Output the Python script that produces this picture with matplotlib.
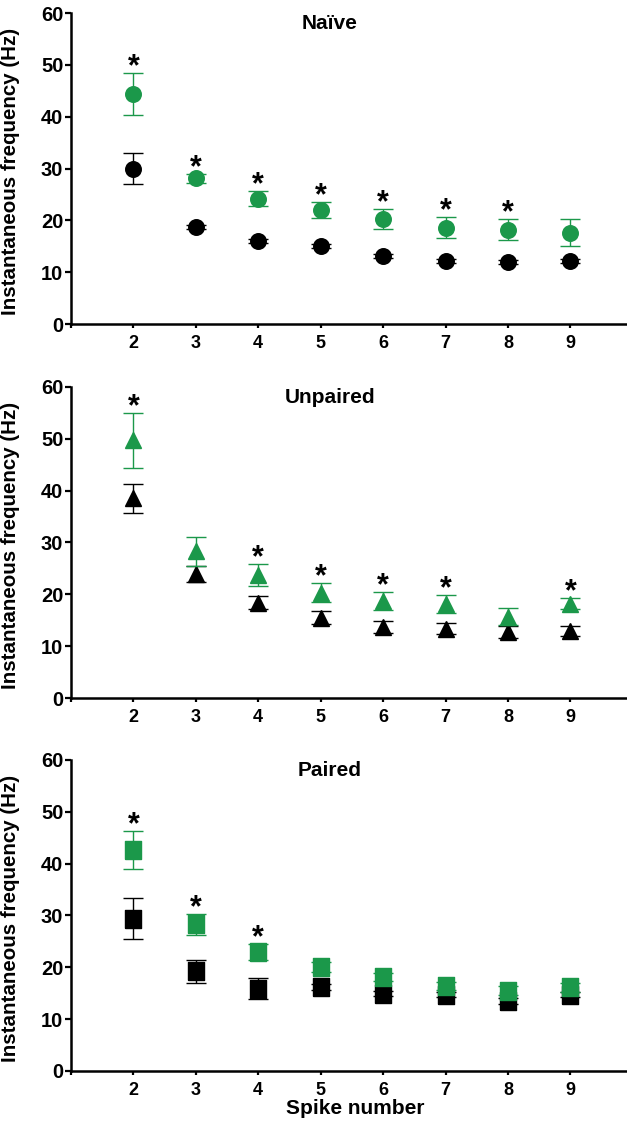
import numpy as np
import matplotlib
matplotlib.use("Agg")
import matplotlib.pyplot as plt

plt.rcParams["font.family"] = ["Liberation Sans", "DejaVu Sans"]
plt.rcParams["font.weight"] = "bold"

GREEN = "#1b984a"

spikes = [2, 3, 4, 5, 6, 7, 8, 9]
tick_labels = ["", "2", "3", "4", "5", "6", "7", "8", "9"]

# Naive (circles)
naive_ctl = [30.0, 18.8, 16.1, 15.0, 13.2, 12.2, 12.0, 12.2]
naive_ctl_err = [3.0, 0.4, 0.4, 0.4, 0.4, 0.4, 0.4, 0.4]
naive_trt = [44.4, 28.1, 24.2, 22.0, 20.2, 18.6, 18.2, 17.6]
naive_trt_err = [4.0, 0.8, 1.5, 1.6, 1.9, 2.0, 2.0, 2.6]
naive_sig = [2, 3, 4, 5, 6, 7, 8]

# Unpaired (triangles)
unp_ctl = [38.5, 23.9, 18.4, 15.5, 13.7, 13.4, 12.7, 12.9]
unp_ctl_err = [2.8, 1.6, 1.3, 1.3, 1.1, 1.1, 1.1, 1.0]
unp_trt = [49.7, 28.3, 23.7, 20.3, 18.7, 18.1, 15.7, 18.2]
unp_trt_err = [5.3, 2.8, 2.1, 1.8, 1.8, 1.7, 1.6, 1.1]
unp_sig = [2, 4, 5, 6, 7, 9]

# Paired (squares)
pair_ctl = [29.4, 19.2, 15.9, 16.2, 14.9, 14.7, 13.5, 14.7]
pair_ctl_err = [4.0, 2.2, 2.1, 0.6, 0.5, 0.5, 0.5, 0.5]
pair_trt = [42.6, 28.3, 23.0, 20.1, 18.1, 16.4, 15.5, 16.1]
pair_trt_err = [3.7, 2.0, 1.5, 1.0, 0.8, 0.8, 0.8, 0.8]
pair_sig = [2, 3, 4]

rect = [(-0.44, -0.5), (0.44, -0.5), (0.44, 0.5), (-0.44, 0.5), (-0.44, -0.5)]

panels = [
    ("Na\u00efve", "o", 11.2, naive_ctl, naive_ctl_err, naive_trt, naive_trt_err, naive_sig, 0.7117),
    ("Unpaired", "^", 11.8, unp_ctl, unp_ctl_err, unp_trt, unp_trt_err, unp_sig, 0.3790),
    ("Paired", rect, 13.0, pair_ctl, pair_ctl_err, pair_trt, pair_trt_err, pair_sig, 0.0472),
]

fig = plt.figure(figsize=(6.27, 11.24), dpi=100)
for i, (title, mk, ms, c, ce, t, te, sig, bottom) in enumerate(panels):
    ax = fig.add_axes([0.1132, bottom, 0.906, 0.2767])
    ax.errorbar(spikes, c, yerr=ce, fmt="none", ecolor="black", elinewidth=1.0,
                capsize=7, capthick=1.0, zorder=2)
    ax.plot(spikes, c, ls="none", marker=mk, ms=ms, color="black", mec="black", zorder=3)
    ax.errorbar(spikes, t, yerr=te, fmt="none", ecolor=GREEN, elinewidth=1.0,
                capsize=7, capthick=1.0, zorder=4)
    ax.plot(spikes, t, ls="none", marker=mk, ms=ms, color=GREEN, mec=GREEN, zorder=5)
    for s in sig:
        k = spikes.index(s)
        ax.text(s, t[k] + te[k] - 0.4, "*", ha="center", va="baseline",
                fontsize=22, fontweight="bold")
    ax.text(5.15, 58, title, ha="center", va="center", fontsize=15, fontweight="bold")

    ax.set_xlim(1, 10.1)
    ax.set_ylim(0, 60)
    ax.set_xticks(range(1, 10))
    ax.set_xticklabels(tick_labels)
    ax.set_yticks(range(0, 61, 10))
    for sp in ["top", "right"]:
        ax.spines[sp].set_visible(False)
    for sp in ["left", "bottom"]:
        ax.spines[sp].set_linewidth(1.8)
    ax.tick_params(axis="y", direction="out", length=4, width=1.6, pad=1.5, labelsize=14.5)
    ax.tick_params(axis="x", direction="out", length=3, width=1.6, pad=5, labelsize=13)
    for lb in ax.get_xticklabels() + ax.get_yticklabels():
        lb.set_fontweight("bold")
    ax.set_ylabel("Instantaneous frequency (Hz)", fontsize=14.8, fontweight="bold")
    ax.yaxis.set_label_coords(-0.089, 0.49)
    if i == 2:
        ax.set_xlabel("Spike number", fontsize=15, fontweight="bold", labelpad=0)

fig.savefig("out.png", dpi=100)
